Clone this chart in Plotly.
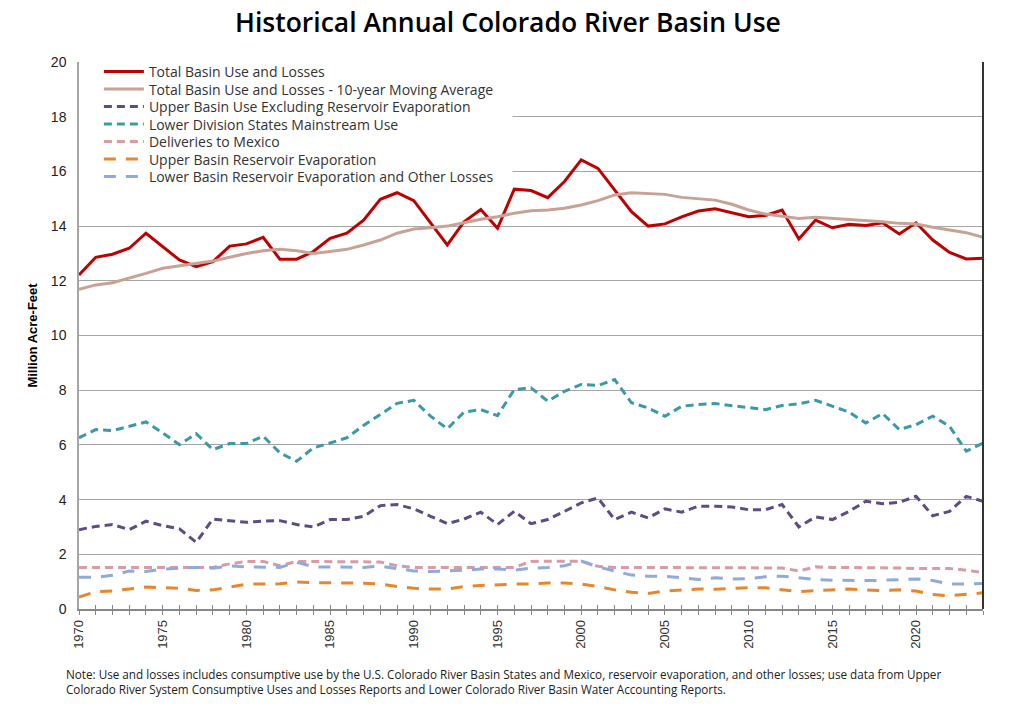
import plotly.graph_objects as go

years = list(range(1970, 2025))

total_use = [12.21, 12.86, 12.97, 13.19, 13.74, 13.25, 12.76, 12.52, 12.70, 13.27,
             13.35, 13.59, 12.79, 12.79, 13.07, 13.55, 13.74, 14.22, 14.98, 15.22,
             14.93, 14.12, 13.31, 14.16, 14.61, 13.92, 15.35, 15.30, 15.04, 15.63,
             16.42, 16.11, 15.32, 14.53, 14.00, 14.08, 14.34, 14.55, 14.63, 14.49,
             14.34, 14.39, 14.59, 13.53, 14.22, 13.94, 14.07, 14.02, 14.12, 13.71,
             14.12, 13.49, 13.04, 12.80, 12.82]

moving_avg = [11.69, 11.85, 11.93, 12.09, 12.27, 12.46, 12.54, 12.64, 12.72, 12.86,
              13.00, 13.10, 13.15, 13.10, 13.00, 13.07, 13.15, 13.31, 13.49, 13.74,
              13.89, 13.94, 14.00, 14.12, 14.25, 14.34, 14.47, 14.56, 14.59, 14.65,
              14.77, 14.93, 15.14, 15.22, 15.20, 15.16, 15.05, 14.99, 14.95, 14.80,
              14.59, 14.44, 14.37, 14.28, 14.32, 14.28, 14.26, 14.22, 14.16, 14.10,
              14.08, 13.96, 13.86, 13.76, 13.59]

upper_use = [2.90, 3.02, 3.09, 2.90, 3.21, 3.05, 2.93, 2.44, 3.29, 3.24,
             3.17, 3.21, 3.23, 3.09, 3.00, 3.27, 3.27, 3.39, 3.78, 3.82,
             3.66, 3.39, 3.12, 3.29, 3.54, 3.09, 3.57, 3.12, 3.27, 3.57,
             3.88, 4.06, 3.27, 3.54, 3.33, 3.66, 3.54, 3.76, 3.76, 3.73,
             3.63, 3.63, 3.82, 3.00, 3.37, 3.27, 3.57, 3.94, 3.85, 3.90,
             4.12, 3.41, 3.57, 4.12, 3.94]

lower_mainstream = [6.26, 6.56, 6.52, 6.68, 6.84, 6.44, 6.01, 6.41, 5.83, 6.05,
                    6.05, 6.32, 5.71, 5.40, 5.89, 6.07, 6.26, 6.71, 7.11, 7.52,
                    7.63, 7.05, 6.59, 7.20, 7.29, 7.07, 8.02, 8.09, 7.60, 7.96,
                    8.21, 8.17, 8.39, 7.54, 7.35, 7.05, 7.41, 7.48, 7.51, 7.44,
                    7.35, 7.29, 7.44, 7.50, 7.63, 7.41, 7.20, 6.80, 7.15, 6.56,
                    6.74, 7.05, 6.68, 5.77, 6.07]

mexico = [1.52, 1.52, 1.52, 1.52, 1.52, 1.52, 1.52, 1.52, 1.52, 1.65,
          1.74, 1.74, 1.58, 1.74, 1.74, 1.74, 1.74, 1.74, 1.72, 1.58,
          1.52, 1.52, 1.52, 1.52, 1.52, 1.52, 1.52, 1.74, 1.74, 1.74,
          1.75, 1.56, 1.52, 1.52, 1.52, 1.52, 1.52, 1.52, 1.52, 1.52,
          1.52, 1.52, 1.50, 1.39, 1.54, 1.52, 1.52, 1.52, 1.50, 1.50,
          1.48, 1.48, 1.48, 1.42, 1.33]

upper_evap = [0.44, 0.63, 0.66, 0.72, 0.80, 0.78, 0.76, 0.68, 0.70, 0.80,
              0.91, 0.91, 0.92, 0.99, 0.96, 0.96, 0.96, 0.94, 0.91, 0.82,
              0.76, 0.73, 0.73, 0.82, 0.86, 0.89, 0.91, 0.92, 0.95, 0.95,
              0.91, 0.82, 0.70, 0.61, 0.57, 0.66, 0.70, 0.73, 0.72, 0.76,
              0.78, 0.78, 0.70, 0.63, 0.67, 0.70, 0.73, 0.70, 0.67, 0.70,
              0.66, 0.53, 0.48, 0.54, 0.59]

lower_evap = [1.16, 1.16, 1.23, 1.39, 1.37, 1.46, 1.49, 1.52, 1.49, 1.58,
              1.54, 1.54, 1.52, 1.71, 1.54, 1.54, 1.54, 1.52, 1.57, 1.49,
              1.39, 1.37, 1.39, 1.42, 1.46, 1.46, 1.42, 1.49, 1.52, 1.58,
              1.75, 1.54, 1.39, 1.24, 1.20, 1.20, 1.14, 1.08, 1.14, 1.10,
              1.11, 1.18, 1.20, 1.14, 1.08, 1.05, 1.04, 1.04, 1.05, 1.08,
              1.10, 1.04, 0.91, 0.91, 0.93]

series = [
    ("Total Basin Use and Losses", total_use, "#C00000", "solid"),
    ("Total Basin Use and Losses - 10-year Moving Average", moving_avg, "#C9A296", "solid"),
    ("Upper Basin Use Excluding Reservoir Evaporation", upper_use, "#5E4C82", "8px,5px"),
    ("Lower Division States Mainstream Use", lower_mainstream, "#3A9BA8", "8px,5px"),
    ("Deliveries to Mexico", mexico, "#D99BA6", "8px,5px"),
    ("Upper Basin Reservoir Evaporation", upper_evap, "#E8862B", "12px,10px"),
    ("Lower Basin Reservoir Evaporation and Other Losses", lower_evap, "#8FAADC", "12px,10px"),
]

fig = go.Figure()
legends = {}
# one small legend per entry, so the rows can sit closer than plotly's default spacing
plot_top, plot_h, row_gap = 10, 547, 17.5
for i, (name, vals, color, dash) in enumerate(series):
    key = "legend" if i == 0 else "legend%d" % (i + 1)
    fig.add_trace(go.Scatter(x=years, y=vals, name=name, mode="lines", legend=key,
                             line=dict(color=color, width=3, dash=dash)))
    legends[key] = dict(x=0.022, y=1 - (plot_top + i * row_gap) / plot_h,
                        xanchor="left", yanchor="middle", bgcolor="rgba(0,0,0,0)",
                        font=dict(family="Open Sans", size=14, color="#333"),
                        itemwidth=40)

# invisible trace on xaxis2, only to get the inner half of the cross ticks
fig.add_trace(go.Scatter(x=[1970, 2024], y=[None, None], xaxis="x2", showlegend=False,
                         hoverinfo="skip"))

fig.update_layout(
    width=1024, height=710,
    paper_bgcolor="white", plot_bgcolor="white",
    margin=dict(l=79, r=41, t=62, b=101),
    font=dict(family="Liberation Sans, Arial", size=13, color="#222"),
    title=dict(text="Historical Annual Colorado River Basin Use", x=0.496, xanchor="center",
               y=0.968, yanchor="middle",
               font=dict(family="Open Sans", size=26.5, color="black", weight=600)),
    showlegend=True,
    xaxis=dict(range=[1970, 2024], tickmode="linear", tick0=1970, dtick=5,
               tickangle=-90, ticks="outside", ticklen=4, tickcolor="#888",
               minor=dict(dtick=1, tick0=1970, ticks="outside", ticklen=4, tickcolor="#888"),
               showgrid=False, zeroline=False, showline=True, linecolor="#888", linewidth=1.5,
               tickfont=dict(size=13, color="#333")),
    xaxis2=dict(range=[1970, 2024], overlaying="x", anchor="y", side="bottom",
                tickmode="linear", tick0=1970, dtick=1, ticks="inside", ticklen=4,
                tickcolor="#888", showticklabels=False, showgrid=False, zeroline=False),
    yaxis=dict(range=[0, 20], dtick=2, showgrid=True, gridcolor="#A6A6A6", gridwidth=1,
               zeroline=False, showline=True, linecolor="#A6A6A6", linewidth=1.5,
               ticks="", ticklabelstandoff=8, tickfont=dict(size=14, color="#222"),
               title=dict(text="<b>Million Acre-Feet</b>", standoff=10,
                          font=dict(size=13, color="black"))),
    **legends,
)

# white panel behind the legend hides the gridlines but not the lines
fig.add_shape(type="rect", xref="x", yref="y", x0=1970, x1=1995.9, y0=15.0, y1=19.93,
              layer="between", fillcolor="white", line=dict(width=0))

# dark right border of the plot area
fig.add_shape(type="line", xref="paper", yref="paper", x0=1, x1=1, y0=0, y1=1,
              line=dict(color="#333", width=2))

fig.add_annotation(
    text="Note: Use and losses includes consumptive use by the U.S. Colorado River Basin States and Mexico, reservoir evaporation, and other losses; use data from Upper<br>"
         "Colorado River System Consumptive Uses and Losses Reports and Lower Colorado River Basin Water Accounting Reports.",
    xref="paper", yref="paper", x=-0.017, y=-0.1, xanchor="left", yanchor="top",
    align="left", showarrow=False,
    font=dict(family="Open Sans", size=11.7, color="#222"))

# drop the browser's default 8px body margin so the figure fills the window exactly
fig.write_html("out.html", config={"displayModeBar": False},
               post_script="document.body.style.margin='0';")
